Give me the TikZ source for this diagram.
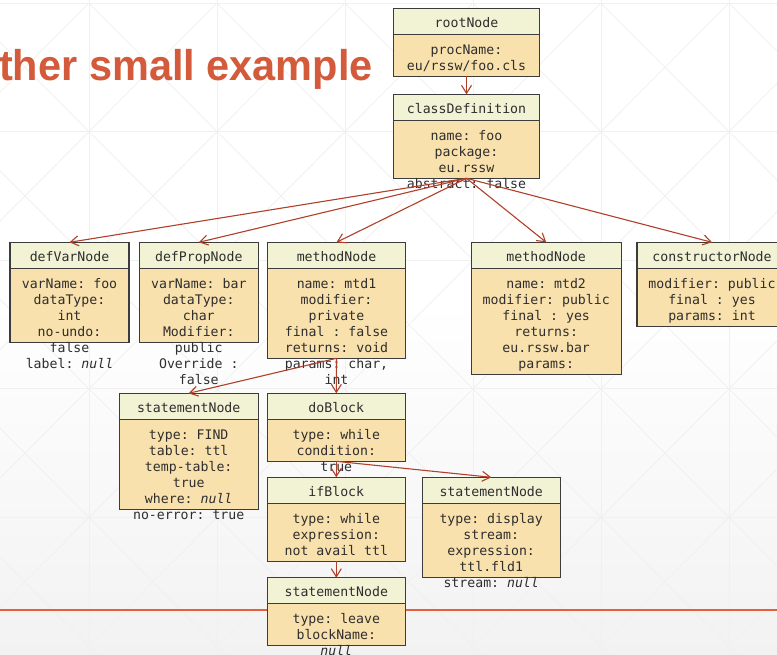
\documentclass[tikz,border=0pt]{standalone}
\usepackage{fontspec}
\setmainfont{Liberation Sans}
\setmonofont{DejaVu Sans Mono}
\newfontfamily\titlefont{Liberation Sans}
\usetikzlibrary{arrows.meta}

\definecolor{hdrfill}{HTML}{F2F2D5}
\definecolor{bodyfill}{HTML}{F9E1AD}
\definecolor{boxline}{HTML}{3C3C3C}
\definecolor{textcol}{HTML}{2E2E2E}
\definecolor{arrowcol}{HTML}{B0402A}
\definecolor{titlecol}{HTML}{D35A3A}
\definecolor{footerrule}{HTML}{E4603F}
\definecolor{gridcol}{HTML}{F0F0F0}

\tikzset{
  boxfont/.style={font=\ttfamily\fontsize{13.2}{16}\selectfont, text=textcol},
  hdr/.style={boxfont, draw=boxline, fill=hdrfill, line width=1.1pt,
    rectangle, inner sep=0pt, outer sep=0pt, minimum height=26pt,
    text height=12pt, text depth=0.5pt},
  bdy/.style={draw=boxline, fill=bodyfill, line width=1.1pt,
    rectangle, inner sep=0pt, outer sep=0pt},
  txt/.style={boxfont, align=center, inner sep=0pt},
  arr/.style={draw=arrowcol, line width=1.1pt,
    -{Straight Barb[length=8pt,width=10pt]}},
}

% #1 name, #2 centre x, #3 top y, #4 width, #5 body height, #6 title, #7 body lines
\newcommand\umlnode[7]{%
  \node[hdr, minimum width=#4pt, anchor=north] (#1-h) at (#2,#3) {#6};
  \node[bdy, minimum width=#4pt, minimum height=#5pt, anchor=north] (#1) at (#1-h.south) {};
  \node[txt, anchor=north] (#1-t) at ([yshift=-8.3pt]#1.north) {\strut #7};
}

\begin{document}
\begin{tikzpicture}[x=1pt, y=-1pt]
  \clip (0,0) rectangle (777,654);
  \useasboundingbox (0,0) rectangle (777,654);

  % slide background
  \fill[white] (0,0) rectangle (777,654);
  \fill[top color=white, bottom color=black!5] (0,300) rectangle (777,654);
  \foreach \i in {0,...,7} {
    \draw[gridcol, line width=0.8pt] ({-39+128*\i},0) -- ({-39+128*\i},654);
  }
  \foreach \j in {0,...,5} {
    \draw[gridcol, line width=0.8pt] (0,{3+128.6*\j}) -- (777,{3+128.6*\j});
  }
  \foreach \i in {0,...,6} {
    \foreach \j in {0,...,5} {
      \draw[gridcol, line width=0.7pt]
        ({-39+128*\i},{3+128.6*\j}) -- ({89+128*\i},{131.6+128.6*\j})
        ({89+128*\i},{3+128.6*\j}) -- ({-39+128*\i},{131.6+128.6*\j});
    }
  }

  % slide footer rule (a thin filled band)
  \fill[footerrule] (0,608.5) rectangle (777,610.5);

  % title
  \node[anchor=base east, inner sep=0pt, text=titlecol, xscale=0.965, transform shape,
        font=\titlefont\bfseries\fontsize{43}{43}\selectfont] (title) at (373,80) {ther small example};

  % tree nodes
  \umlnode{root}{466.5}{8.3}{146.4}{42}{rootNode}{procName:\\eu/rssw/foo.cls}
  \umlnode{class}{466.5}{94.3}{146.4}{58}{classDefinition}{name: foo\\package:\\eu.rssw\\abstract: false}

  \umlnode{defvar}{69.5}{242.3}{119}{74}{defVarNode}{varName: foo\\dataType:\\int\\no-undo:\\false\\label: \textit{null}}
  \umlnode{defprop}{198.8}{242.3}{119}{74}{defPropNode}{varName: bar\\dataType:\\char\\Modifier:\\public\\Override :\\false}
  \umlnode{methodA}{336.5}{242.3}{138.4}{90}{methodNode}{name: mtd1\\modifier:\\private\\final : false\\returns: void\\params: char,\\int}
  \umlnode{methodB}{546.2}{242.3}{150.3}{106}{methodNode}{name: mtd2\\modifier: public\\final : yes\\returns:\\eu.rssw.bar\\params:}
  \umlnode{ctor}{712}{242.3}{150}{58}{constructorNode}{modifier: public\\final : yes\\params: int}

  \umlnode{stmtA}{188.7}{393.3}{138.7}{90}{statementNode}{type: FIND\\table: ttl\\temp-table:\\true\\where: \textit{null}\\no-error: true}
  \umlnode{doblk}{336.3}{393.3}{138}{42}{doBlock}{type: while\\condition:\\true}
  \umlnode{ifblk}{336.3}{477.3}{138}{58}{ifBlock}{type: while\\expression:\\not avail ttl}
  \umlnode{stmtB}{491.2}{477.3}{138.3}{74}{statementNode}{type: display\\stream:\\expression:\\ttl.fld1\\stream: \textit{null}}
  \umlnode{stmtC}{336.3}{577.7}{138}{42}{statementNode}{type: leave\\blockName:\\\textit{null}}

  % edges
  \draw[arr] (root.south) -- (class-h.north);
  \draw[arr] (class.south) -- (defvar-h.north);
  \draw[arr] (class.south) -- (defprop-h.north);
  \draw[arr] (class.south) -- (methodA-h.north);
  \draw[arr] (class.south) -- (methodB-h.north);
  \draw[arr] (class.south) -- (ctor-h.north);
  \draw[arr] (methodA.south) -- (stmtA-h.north);
  \draw[arr] (methodA.south) -- (doblk-h.north);
  \draw[arr] (doblk.south) -- (ifblk-h.north);
  \draw[arr] (doblk.south) -- (stmtB-h.north);
  \draw[arr] (ifblk.south) -- (stmtC-h.north);
\end{tikzpicture}
\end{document}
